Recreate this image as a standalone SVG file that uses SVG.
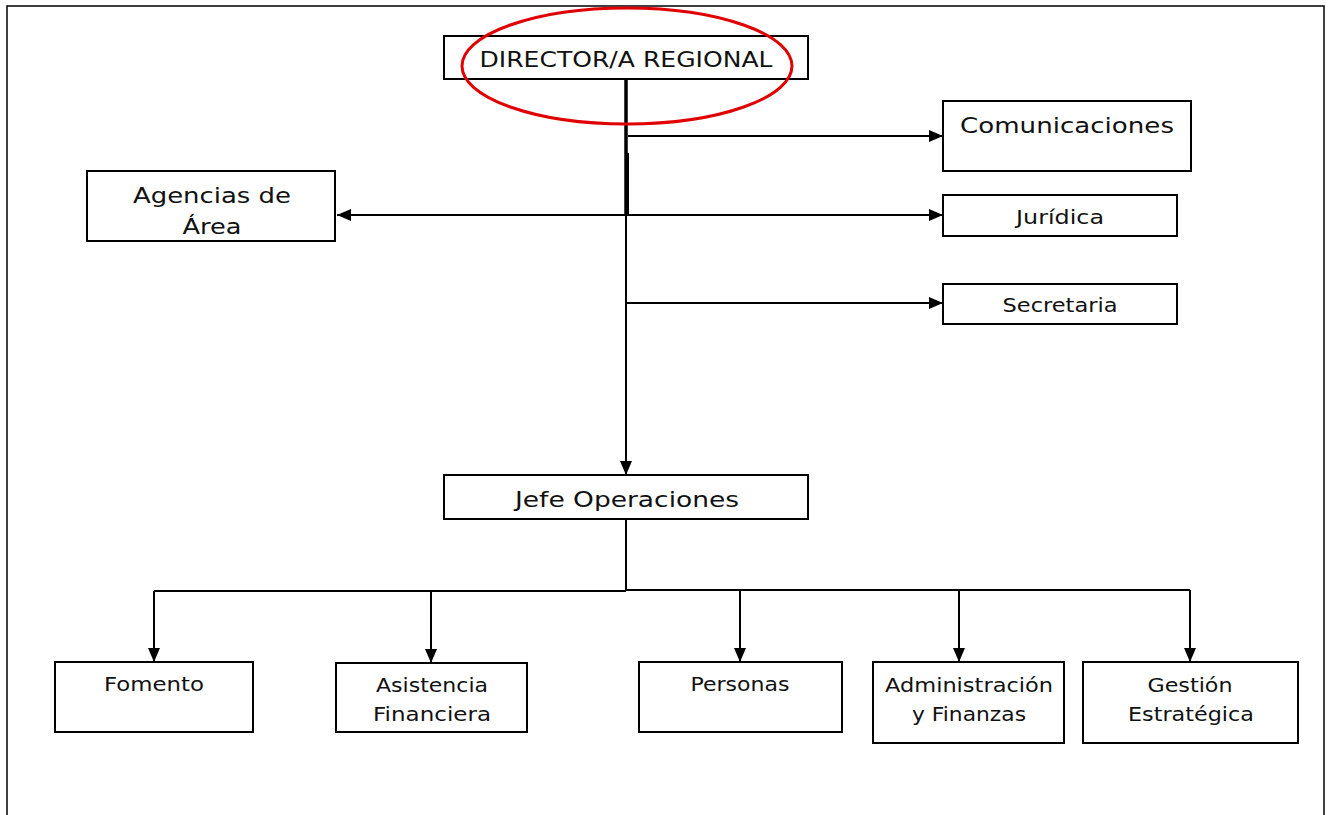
<svg xmlns="http://www.w3.org/2000/svg" width="1333" height="815" viewBox="0 0 1333 815">
<defs>
<marker id="ah" markerWidth="14" markerHeight="12" refX="14" refY="6" orient="auto" markerUnits="userSpaceOnUse">
<path d="M0,0 L14,6 L0,12 Z" fill="#000"/>
</marker>
<style>
.box{fill:#fff;stroke:#000;stroke-width:2}
.t{font-family:"DejaVu Sans","Liberation Sans",sans-serif;fill:#111;text-anchor:middle}
.l{font-size:22px}
.s{font-size:19px}
.c{fill:none;stroke:#000;stroke-width:2}
.ca{fill:none;stroke:#000;stroke-width:2;marker-end:url(#ah)}
</style>
</defs>
<rect width="1333" height="815" fill="#fff"/>
<path d="M7,815 V6 H1324 V815" fill="none" stroke="#000" stroke-width="1.5"/>
<g id="connectors">
<line x1="626" y1="79" x2="626" y2="215" stroke="#000" stroke-width="3.5"/>
<line x1="628" y1="153" x2="628" y2="215" stroke="#000" stroke-width="2"/>
<line class="ca" x1="626" y1="215" x2="626" y2="475"/>
<line class="ca" x1="628" y1="136" x2="943" y2="136"/>
<line class="ca" x1="626" y1="215" x2="943" y2="215"/>
<line class="ca" x1="626" y1="215" x2="337" y2="215"/>
<line class="ca" x1="626" y1="303" x2="943" y2="303"/>
<line class="c" x1="626" y1="519" x2="626" y2="591"/>
<path class="c" d="M154,591 H626 M626,590 H1190"/>
<line class="ca" x1="154" y1="591" x2="154" y2="662"/>
<line class="ca" x1="431" y1="591" x2="431" y2="663"/>
<line class="ca" x1="740" y1="590" x2="740" y2="662"/>
<line class="ca" x1="959" y1="590" x2="959" y2="662"/>
<line class="ca" x1="1190" y1="590" x2="1190" y2="662"/>
</g>
<g id="director">
<rect class="box" x="444" y="36" width="364" height="43"/>
<text class="t l" x="626" y="67" textLength="293" lengthAdjust="spacingAndGlyphs">DIRECTOR/A REGIONAL</text>
</g>
<g id="comunicaciones">
<rect class="box" x="943" y="101" width="248" height="70"/>
<text class="t l" x="1067" y="133" textLength="214" lengthAdjust="spacingAndGlyphs">Comunicaciones</text>
</g>
<g id="agencias">
<rect class="box" x="87" y="171" width="248" height="70"/>
<text class="t l" x="212" y="203" textLength="158" lengthAdjust="spacingAndGlyphs">Agencias de</text>
<text class="t l" x="212" y="234" textLength="59" lengthAdjust="spacingAndGlyphs">Área</text>
</g>
<g id="juridica">
<rect class="box" x="943" y="195" width="234" height="41"/>
<text class="t s" x="1060" y="224" textLength="88" lengthAdjust="spacingAndGlyphs">Jurídica</text>
</g>
<g id="secretaria">
<rect class="box" x="943" y="284" width="234" height="40"/>
<text class="t s" x="1060" y="312" textLength="115" lengthAdjust="spacingAndGlyphs">Secretaria</text>
</g>
<g id="jefe">
<rect class="box" x="444" y="475" width="364" height="44"/>
<text class="t l" x="627" y="507" textLength="224" lengthAdjust="spacingAndGlyphs">Jefe Operaciones</text>
</g>
<g id="fomento">
<rect class="box" x="55" y="662" width="198" height="70"/>
<text class="t s" x="154" y="691" textLength="100" lengthAdjust="spacingAndGlyphs">Fomento</text>
</g>
<g id="asistencia">
<rect class="box" x="336" y="663" width="191" height="69"/>
<text class="t s" x="432" y="692" textLength="112" lengthAdjust="spacingAndGlyphs">Asistencia</text>
<text class="t s" x="432" y="721" textLength="118" lengthAdjust="spacingAndGlyphs">Financiera</text>
</g>
<g id="personas">
<rect class="box" x="639" y="662" width="203" height="70"/>
<text class="t s" x="740" y="691" textLength="99" lengthAdjust="spacingAndGlyphs">Personas</text>
</g>
<g id="administracion">
<rect class="box" x="873" y="662" width="191" height="81"/>
<text class="t s" x="969" y="692" textLength="168" lengthAdjust="spacingAndGlyphs">Administración</text>
<text class="t s" x="969" y="721" textLength="114" lengthAdjust="spacingAndGlyphs">y Finanzas</text>
</g>
<g id="gestion">
<rect class="box" x="1083" y="662" width="215" height="81"/>
<text class="t s" x="1190" y="692" textLength="85" lengthAdjust="spacingAndGlyphs">Gestión</text>
<text class="t s" x="1191" y="721" textLength="126" lengthAdjust="spacingAndGlyphs">Estratégica</text>
</g>
<ellipse cx="627" cy="66" rx="165" ry="58" fill="none" stroke="#e00000" stroke-width="3"/>
</svg>
